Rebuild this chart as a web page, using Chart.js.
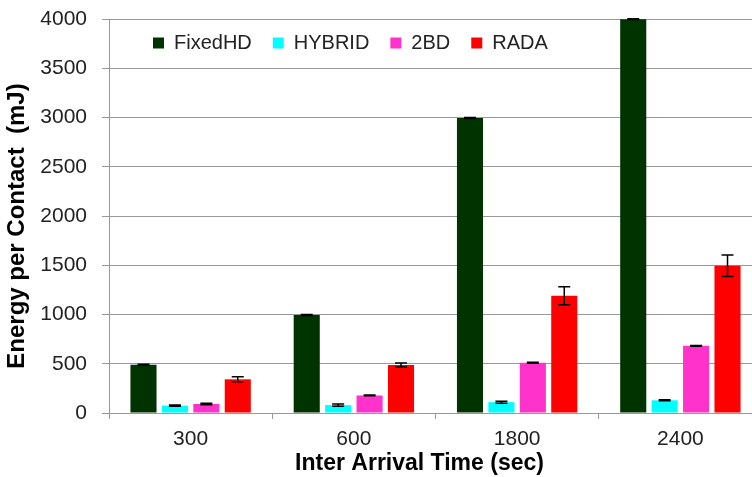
<!DOCTYPE html>
<html><head><meta charset="utf-8">
<script src="https://cdn.jsdelivr.net/npm/chart.js@4"></script>
<style>html,body{margin:0;padding:0;overflow:hidden;background:#fff}
#wrap{width:762px;height:477px;position:relative}</style>
</head><body><div id="wrap"><canvas id="c" width="762" height="477"></canvas></div>
<script>
const categories = ['300', '600', '1800', '2400'];
const seriesNames = ['FixedHD', 'HYBRID', '2BD', 'RADA'];
const fixedHD = [490, 995, 2995, 3998];
const hybrid = [75, 80, 110, 129];
const twoBD = [92, 178, 510, 682];
const rada = [342, 487, 1190, 1495];
const fixedHDErr = [4, 4, 4, 4];
const hybridErr = [6, 12, 10, 5];
const twoBDErr = [8, 4, 5, 4];
const radaErr = [25, 20, 92, 108];
const yTicks = [0, 500, 1000, 1500, 2000, 2500, 3000, 3500, 4000];

const colors = ['#003300', '#00FFFF', '#FF33CC', '#FF0000'];
const values = [fixedHD, hybrid, twoBD, rada];
const errors = [fixedHDErr, hybridErr, twoBDErr, radaErr];

Chart.defaults.font.family = "'Liberation Sans', Arial, sans-serif";

const errorBars = {
  id: 'errorBars',
  afterDatasetsDraw(chart) {
    const ctx = chart.ctx, ys = chart.scales.y;
    ctx.save();
    ctx.strokeStyle = '#000';
    ctx.lineWidth = 1.5;
    chart.data.datasets.forEach((ds, i) => {
      const meta = chart.getDatasetMeta(i);
      meta.data.forEach((el, j) => {
        const v = ds.data[j], e = errors[i][j];
        const t = ys.getPixelForValue(v + e), b = ys.getPixelForValue(v - e);
        const x = el.x, hw = 6;
        ctx.beginPath();
        ctx.moveTo(x, t); ctx.lineTo(x, b);
        ctx.moveTo(x - hw, t); ctx.lineTo(x + hw, t);
        ctx.moveTo(x - hw, b); ctx.lineTo(x + hw, b);
        ctx.stroke();
      });
    });
    ctx.restore();
  }
};

// legend drawn inside the plot area: take no layout space, then place it
const legendInside = {
  id: 'legendInside',
  beforeUpdate(chart) {
    const lg = chart.legend;
    if (lg && !lg._inside) {
      const fit = lg.fit.bind(lg);
      lg.fit = function () { fit(); this.height = 0; };
      lg._inside = true;
    }
  },
  afterUpdate(chart) {
    const lg = chart.legend;
    if (!lg) return;
    const w = lg.right - lg.left;
    lg.left = 132; lg.right = lg.left + w;
    lg.top = 12; lg.bottom = lg.top + 40;
  }
};

new Chart(document.getElementById('c'), {
  type: 'bar',
  data: {
    labels: categories,
    datasets: seriesNames.map((n, i) => ({
      label: n,
      data: values[i],
      backgroundColor: colors[i],
      borderWidth: 0,
      categoryPercentage: 0.77,
      barPercentage: 0.83
    }))
  },
  options: {
    responsive: false,
    animation: false,
    devicePixelRatio: 1,
    layout: { padding: { top: 19, left: 0, right: 0, bottom: 0 } },
    plugins: {
      tooltip: { enabled: false },
      legend: {
        position: 'top',
        align: 'start',
        labels: {
          boxWidth: 11, boxHeight: 11, padding: 21,
          color: '#222',
          font: { size: 20 }
        }
      }
    },
    scales: {
      x: {
        ticks: { color: '#222', font: { size: 21 }, padding: 8 },
        grid: { display: true, drawOnChartArea: false, drawTicks: true, tickLength: 6, color: '#999', offset: true },
        border: { color: '#999', width: 1 },
        title: { display: true, text: 'Inter Arrival Time (sec)     ', color: '#000', font: { size: 23, weight: 'bold' }, padding: { top: 0, bottom: 0 } },
        afterFit(s) { s.height = 64; }
      },
      y: {
        min: 0, max: 4000,
        afterBuildTicks(s) { s.ticks = yTicks.map(v => ({ value: v })); },
        ticks: { color: '#222', font: { size: 21 }, padding: 15, callback: v => String(v) },
        grid: { color: '#999', lineWidth: 1, tickLength: 7 },
        border: { color: '#999', width: 1 },
        title: { display: true, text: 'Energy per Contact  (mJ)   ', color: '#000', font: { size: 24, weight: 'bold' }, padding: { top: 3, bottom: 0 } },
        afterFit(s) { s.width = 109; s.paddingTop = 0; s.paddingBottom = 0; }
      }
    }
  },
  plugins: [errorBars, legendInside]
});
</script>
</body></html>
